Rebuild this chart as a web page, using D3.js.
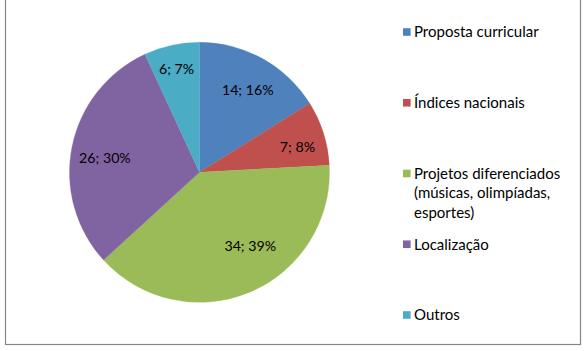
<!DOCTYPE html>
<html>
<head>
<meta charset="utf-8">
<script src="https://cdn.jsdelivr.net/npm/d3@7"></script>
<style>
  html, body { margin: 0; padding: 0; background: #fff; }
  svg { display: block; }
  text { font-family: Lato, "Open Sans", sans-serif; fill: #000; }
</style>
</head>
<body>
<svg id="chart" width="587" height="351"></svg>
<script>
// ---- data ----
const categories = [
  "Proposta curricular",
  "Índices nacionais",
  "Projetos diferenciados (músicas, olimpíadas, esportes)",
  "Localização",
  "Outros"
];
const legendLines = [
  ["Proposta curricular"],
  ["Índices nacionais"],
  ["Projetos diferenciados", "(músicas, olimpíadas,", "esportes)"],
  ["Localização"],
  ["Outros"]
];
const values = [14, 7, 34, 26, 6];
const percents = [16, 8, 39, 30, 7];

// ---- style / layout ----
const colors = ["#4F81BD", "#C0504D", "#9BBB59", "#8064A2", "#4BACC6"];
const labelNudge = [[1, 3], [5, 4], [13, -16], [1, 5], [-2, -8]];

const svg = d3.select("#chart");
const cx = 199.5, cy = 172.3, R = 130;

// outer border
svg.append("rect")
  .attr("x", 5.5).attr("y", -5)
  .attr("width", 575).attr("height", 349.5)
  .attr("fill", "none").attr("stroke", "#868686").attr("stroke-width", 1.2);

const pie = d3.pie().sort(null).value(d => d.v);
const data = values.map((v, i) => ({ v, i, p: percents[i] }));
const arcs = pie(data);

const arc = d3.arc().innerRadius(0).outerRadius(R);
const labelArc = d3.arc().innerRadius(R * 0.75).outerRadius(R * 0.75);

const g = svg.append("g").attr("transform", `translate(${cx},${cy})`);
g.selectAll("path.slice").data(arcs).enter().append("path")
  .attr("class", "slice")
  .attr("d", arc)
  .attr("fill", d => colors[d.data.i])
  .attr("stroke", d => colors[d.data.i])
  .attr("stroke-width", 0.3);

g.selectAll("text.lbl").data(arcs).enter().append("text")
  .attr("class", "lbl")
  .attr("transform", d => {
    const c = labelArc.centroid(d);
    const n = labelNudge[d.data.i];
    return `translate(${c[0] + n[0]},${c[1] + n[1]})`;
  })
  .attr("text-anchor", "middle")
  .attr("dy", "0.36em")
  .style("font-size", "14.2px")
  .text(d => `${d.data.v}; ${d.data.p}%`);

// legend
const ly = d3.scalePoint().domain(categories).range([32, 315]);
const lg = svg.append("g");
const items = lg.selectAll("g.item").data(categories).enter().append("g")
  .attr("class", "item")
  .attr("transform", d => `translate(403,${ly(d)})`);
items.append("rect")
  .attr("x", 0).attr("y", -3.8)
  .attr("width", 7.6).attr("height", 7.6)
  .attr("fill", (d, i) => colors[i]);
items.each(function(d, i) {
  const t = d3.select(this).append("text")
    .attr("x", 11).attr("y", 0)
    .style("font-size", "15px");
  legendLines[i].forEach((line, k) => {
    t.append("tspan").attr("x", 11).attr("dy", k === 0 ? "0.36em" : "19.5px").text(line);
  });
});
</script>
</body>
</html>
